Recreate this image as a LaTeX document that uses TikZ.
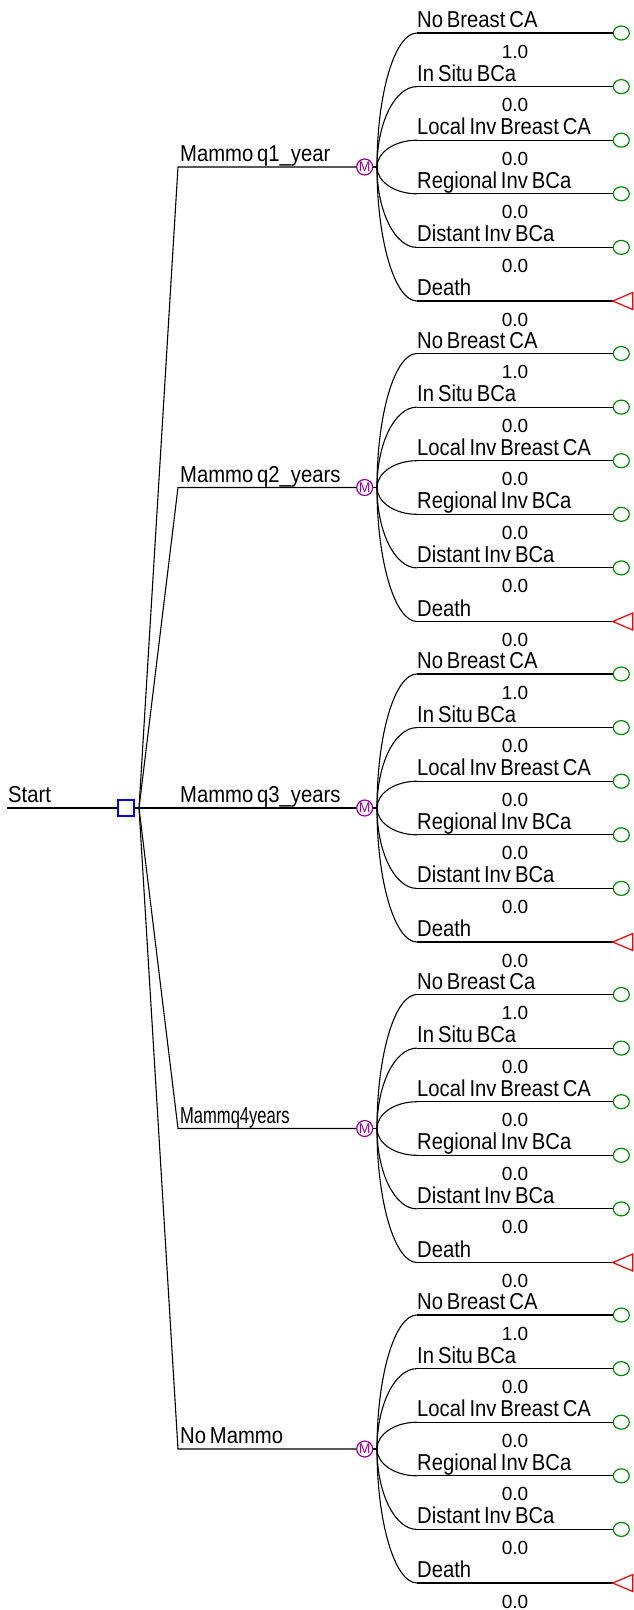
\documentclass[tikz,border=0pt]{standalone}
\usepackage{fontspec}
\setmainfont{Liberation Sans}
\newfontfamily\labfont[FakeStretch=0.88,WordSpace=0.7]{Liberation Sans}
\newfontfamily\narrowfont[FakeStretch=0.72]{Liberation Sans}
\usetikzlibrary{shapes.geometric}
\definecolor{mpurple}{RGB}{153,0,153}
\definecolor{tgreen}{RGB}{0,140,0}
\definecolor{dblue}{RGB}{0,0,255}
\tikzset{
  lab/.style={anchor=base west, inner sep=0pt, font=\labfont\fontsize{23}{23}\selectfont},
  prob/.style={anchor=base, inner sep=0pt, font=\fontsize{19}{19}\selectfont},
  mnode/.style={circle, draw=mpurple, text=mpurple, line width=1.2pt, minimum size=16pt, inner sep=0pt, font=\fontsize{14}{14}\selectfont},
  term/.style={ellipse, draw=tgreen, line width=1.2pt, minimum width=16pt, minimum height=14pt, inner sep=0pt, anchor=west},
  dnode/.style={rectangle, draw=dblue, line width=1.2pt, minimum size=16pt, inner sep=0pt},
  killtri/.style={draw=red, line width=1.2pt},
  conn/.style={draw=black, line width=1.1pt}
}
\begin{document}
\begin{tikzpicture}[x=1pt,y=-1pt]
\useasboundingbox (0,0) rectangle (634,1610);
\coordinate (st) at (7,808);
\node[dnode] (sq) at (126,808) {};
\coordinate (fan) at (139,808);
\node[lab] (startlab) at (8,802.5) {Start};
\draw[conn] (st) -- (sq.west);
\draw[conn] (sq.east) -- (fan);
\foreach \g/\bname/\first in {0/{Mammo q1\_year}/{No Breast CA},1/{Mammo q2\_years}/{No Breast CA},2/{Mammo q3\_years}/{No Breast CA},3/{\narrowfont\fontsize{23}{23}\selectfont Mammq4years}/{No Breast Ca},4/{No Mammo}/{No Breast CA}}{
  \pgfmathsetmacro\yc{167+320.5*\g}
  \coordinate (c\g) at (178,\yc);
  \node[mnode] (m\g) at (364.7,\yc) {M};
  \coordinate (h\g) at (377,\yc);
  \node[lab] (bl\g) at (180,\yc-5.5) {\bname};
  \draw[conn] (fan) -- (c\g) -- (m\g.west);
  \draw[conn] (m\g.east) -- (h\g);
  \foreach \i/\lname/\p in {0/\first/1.0,1/{In Situ BCa}/0.0,2/{Local Inv Breast CA}/0.0,3/{Regional Inv BCa}/0.0,4/{Distant Inv BCa}/0.0,5/{Death}/0.0}{
    \pgfmathsetmacro\yi{\yc-134+53.6*\i}
    \pgfmathsetmacro\ya{\yc+0.552*(\yi-\yc)}
    \coordinate (s\g\i) at (417,\yi);
    \draw[conn] (h\g) .. controls (377,\ya) and (394.9,\yi) .. (s\g\i);
    \node[lab] (l\g\i) at (417,\yi-5.5) {\lname};
    \node[prob] (p\g\i) at (515,\yi+25) {\p};
    \ifnum\i=5
      \coordinate (t\g) at (612.7,\yi);
      \draw[conn] (s\g\i) -- (t\g);
      \draw[killtri] (t\g) -- ++(20,-8.5) -- ++(0,17) -- cycle;
    \else
      \node[term] (e\g\i) at (612.7,\yi) {};
      \draw[conn] (s\g\i) -- (e\g\i);
    \fi
  }
}
\end{tikzpicture}
\end{document}
